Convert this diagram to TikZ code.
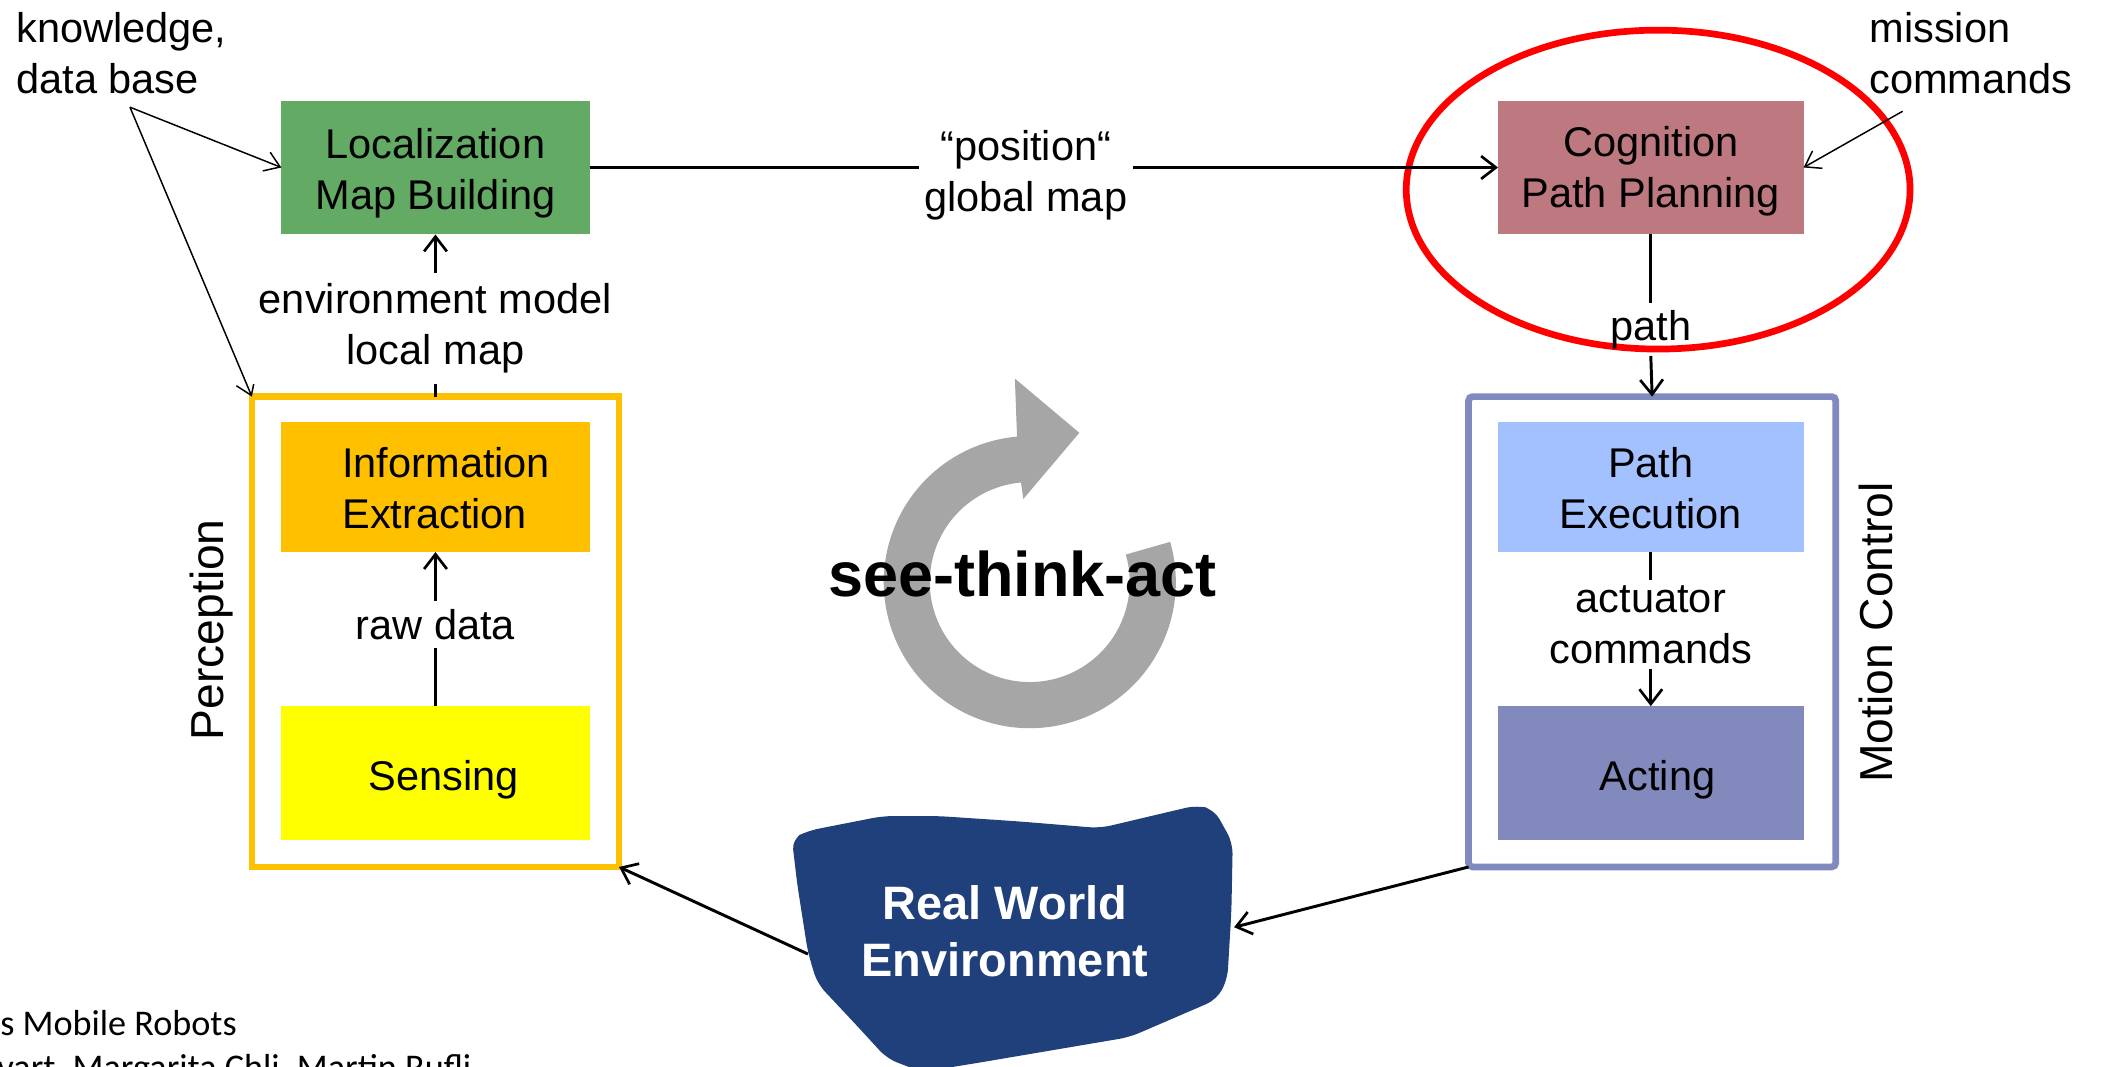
\documentclass[tikz,border=0pt]{standalone}
\usepackage{fontspec}
\setmainfont{Liberation Sans}
\newfontfamily\calibfont{Carlito}
\usetikzlibrary{arrows.meta,calc}
\definecolor{locgreen}{RGB}{99,170,100}
\definecolor{cogred}{RGB}{190,120,128}
\definecolor{infoorange}{RGB}{255,192,0}
\definecolor{sensyellow}{RGB}{255,255,0}
\definecolor{pelblue}{RGB}{163,193,255}
\definecolor{actblue}{RGB}{129,137,189}
\definecolor{motframe}{RGB}{128,138,190}
\definecolor{blobblue}{RGB}{31,64,122}
\definecolor{ringgray}{RGB}{166,166,166}
\newcommand\myfs{\fontsize{31}{38}\selectfont}
\begin{document}
\begin{tikzpicture}[x=1pt,y=-1pt,
  box/.style={rectangle, inner sep=0pt, outer sep=0pt, minimum width=230pt, minimum height=100pt},
  boxtext/.style={font=\myfs, align=center, text=black},
  frame/.style={rectangle, inner sep=0pt, outer sep=0pt, minimum width=274pt, minimum height=351pt, line width=5pt},
  lbl/.style={font=\myfs, align=center, inner sep=4pt, fill=white},
  arr/.style={line width=2.2pt, -{Straight Barb[length=11pt,width=17pt,line width=2pt]}},
  thinarr/.style={line width=1.1pt, -{Straight Barb[length=11pt,width=15pt,line width=1.1pt]}},
  titletext/.style={font=\fontsize{34.5}{40}\selectfont, rotate=90}
]
\useasboundingbox (0,0) rectangle (1568,796);
\clip (0,0) rectangle (1568,796);

% circular arrow
\fill[ringgray] (873.3,404.4) arc[start angle=-16,end angle=265,radius=109]
  -- (757.4,282.5) -- (805.5,323) -- (763.7,372.4) -- (762.0,360.1)
  arc[start angle=265,end angle=-16,radius=74.6] -- cycle;
\node (sta) at (763,428) {\fontsize{47}{56}\selectfont\bfseries see-think-act};

% red ellipse
\draw[red, line width=5pt] (1237.5,141.5) ellipse [x radius=188, y radius=119];

% real world blob
\fill[blobblue, rounded corners=8pt] (591,626) -- (603,620) -- (659,609) -- (700,609) -- (760,613)
  -- (821,618) -- (893,601) -- (906,604) -- (920,629) -- (919,680) -- (916,731) -- (908,746)
  -- (843,774) -- (731,793) -- (688,800) -- (662,790) -- (640,766) -- (610,734) -- (603,711) -- (595,660) -- cycle;
\node[font=\fontsize{35}{43}\selectfont\bfseries, text=white, align=center] (rwe) at (750,695) {Real World\\Environment};
\coordinate (rweE) at (921,692);
\coordinate (rweW) at (603,712);

% frames
\node[frame, draw=infoorange] (perc) at (325,471.5) {};
\node[frame, draw=motframe, rounded corners=3pt] (mot) at (1233,471.5) {};

% boxes
\node[box, fill=locgreen,
  label={[boxtext, yshift=-4pt]center:{Localization\\Map Building}}] (loc) at (325,125) {};
\node[box, fill=cogred, minimum width=228pt,
  label={[boxtext, yshift=-3pt]center:{Cognition\\Path Planning}}] (cog) at (1232,125) {};
\node[box, fill=infoorange, minimum height=97pt,
  label={[boxtext, align=left, xshift=8pt, yshift=-1pt]center:{Information\\Extraction}}] (info) at (325,363.5) {};
\node[box, fill=sensyellow,
  label={[boxtext, xshift=6pt, yshift=-5pt]center:Sensing}] (sens) at (325,577) {};
\node[box, fill=pelblue, minimum width=228pt, minimum height=97pt,
  label={[boxtext, yshift=-1pt]center:{Path\\Execution}}] (pe) at (1232,363.5) {};
\node[box, fill=actblue, minimum width=228pt,
  label={[boxtext, xshift=5pt, yshift=-5pt]center:Acting}] (act) at (1232,577) {};

% titles
\node[titletext] (perctitle) at (158,470) {Perception};
\node[titletext] (mottitle) at (1400,472) {Motion Control};

% outside texts
\node[font=\myfs, align=left, anchor=west, inner sep=0pt] (kdb) at (12,40) {knowledge,\\data base};
\node[font=\myfs, align=left, anchor=west, inner sep=0pt] (mc) at (1395,40) {mission\\commands};
\coordinate (kdbtip) at (97,80);
\coordinate (mctip) at (1420,83);

% connectors
\draw[thinarr] (kdbtip) -- (loc.west);
\draw[thinarr] (kdbtip) -- (perc.north west);
\draw[thinarr] (mctip) -- (cog.east);
\draw[arr] (loc.east) -- node[lbl, pos=0.48, yshift=-6pt] (poslbl) {“position“\\global map} (cog.west);
\draw[arr] (perc.north) -- node[lbl, pos=0.42, inner ysep=8pt] (envlbl) {environment model\\local map} (loc.south);
\draw[arr] (sens.north) -- node[lbl, pos=0.53, inner ysep=6pt] (rawlbl) {raw data} (info.south);
\draw[arr] (pe.south) -- node[lbl, pos=0.47] (actlbl) {actuator\\commands} (act.north);
\node[font=\myfs, inner sep=5pt] (pathlbl) at (1232,246) {path};
\draw[line width=2.2pt] (cog.south) -- (pathlbl.north);
\draw[arr] (pathlbl.south) -- (mot.north);
\draw[arr] (mot.south west) -- (rweE);
\draw[arr] (rweW) -- (perc.south east);

% credits (cut off)
\node[anchor=base west, inner sep=0pt, font=\calibfont\fontsize{27}{33}\selectfont] (credit1) at (0,773) {s Mobile Robots};
\node[anchor=base west, inner sep=0pt, font=\calibfont\fontsize{27}{33}\selectfont] (credit2) at (-2,806) {vart, Margarita Chli, Martin Rufli};
\end{tikzpicture}
\end{document}
